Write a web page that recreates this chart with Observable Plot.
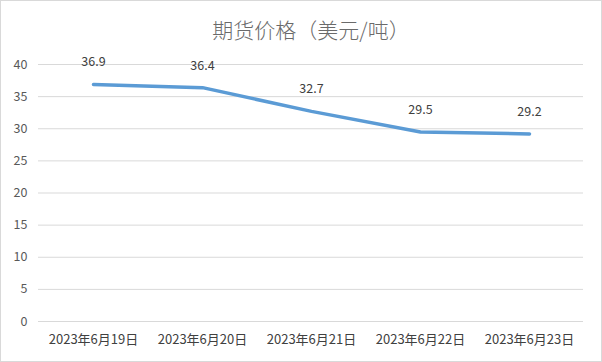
<!DOCTYPE html>
<html><head><meta charset="utf-8">
<script src="https://cdn.jsdelivr.net/npm/d3@7"></script>
<script src="https://cdn.jsdelivr.net/npm/@observablehq/plot@0.6"></script>
<style>
body{margin:0;background:#fff;}
svg{outline:1px solid #d9d9d9;outline-offset:-1px;}
</style>
</head><body>
<div id="chart"></div>
<script>
const categories = ["2023年6月19日","2023年6月20日","2023年6月21日","2023年6月22日","2023年6月23日"];
const values = [36.9, 36.4, 32.7, 29.5, 29.2];
const yTicks = [0,5,10,15,20,25,30,35,40];
const title = "期货价格（美元/吨）";

const data = categories.map((c,i)=>({cat:c, v:values[i]}));
const font = "'Noto Sans CJK SC', 'Liberation Sans', sans-serif";

const chart = Plot.plot({
  width: 602, height: 362,
  marginLeft: 38, marginRight: 19, marginTop: 64, marginBottom: 41,
  style: {fontFamily: font, fontSize: "12px", color: "#595959", background: "#fff"},
  x: {type: "point", domain: categories, padding: 0.5, label: null},
  y: {domain: [0, 40], ticks: yTicks, label: null},
  marks: [
    Plot.gridY(yTicks, {stroke: "#d9d9d9", strokeOpacity: 1, strokeWidth: 1}),
    Plot.axisY(yTicks, {tickSize: 0, tickPadding: 11, fontSize: 12.5, fill: "#595959", label: null}),
    Plot.axisX({tickSize: 0, tickPadding: 13, fontSize: 13, letterSpacing: "0.4px", fill: "#404040", label: null}),
    Plot.line(data, {x: "cat", y: "v", stroke: "#5b9bd5", strokeWidth: 3.5, strokeLinecap: "round", strokeLinejoin: "round"}),
    Plot.text(data, {x: "cat", y: "v", text: d => d.v.toFixed(1), dy: -22, fontSize: 12.5, fill: "#404040"}),
    Plot.text([title], {frameAnchor: "top", dy: -41, fontSize: 21, fontWeight: 300, letterSpacing: "1.8px", fill: "#6a6a6a"})
  ]
});
document.getElementById("chart").appendChild(chart);
</script>
</body></html>
